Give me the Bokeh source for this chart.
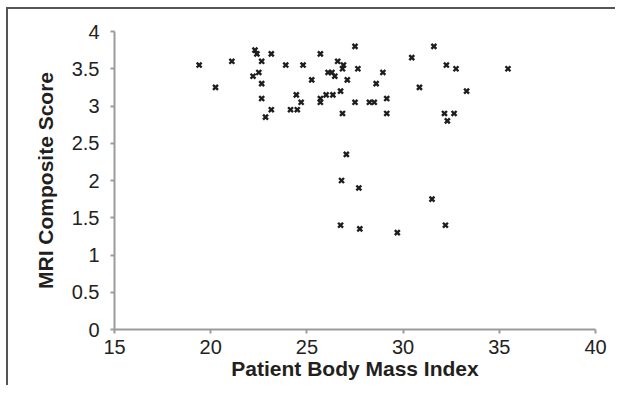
from bokeh.plotting import figure
from bokeh.models import ColumnDataSource, FixedTicker, CustomJSTickFormatter, Range1d
from bokeh.embed import file_html
from bokeh.resources import INLINE

# Patient BMI (x) and MRI composite score (y)
bmi = [19.4, 20.25, 21.1, 22.3, 22.4, 22.2, 22.5, 22.65, 22.65, 22.65,
       22.85, 23.15, 23.15, 23.9, 24.15, 24.5, 24.45, 24.7, 24.8, 25.25,
       25.7, 25.7, 25.7, 26.0, 26.1, 26.35, 26.3, 26.45, 26.6, 26.75,
       26.85, 26.9, 26.85, 27.1, 27.5, 27.5, 27.65, 28.25, 28.5, 28.6,
       28.95, 29.15, 29.15, 30.45, 30.85, 31.6, 32.25, 32.15, 32.3, 32.65,
       32.75, 33.3, 35.45,
       27.05, 26.8, 27.7, 31.5, 26.75, 27.75, 29.7, 32.2]
mri = [3.55, 3.25, 3.60, 3.75, 3.70, 3.40, 3.45, 3.60, 3.30, 3.10,
       2.85, 2.95, 3.70, 3.55, 2.95, 2.95, 3.15, 3.05, 3.55, 3.35,
       3.70, 3.10, 3.05, 3.15, 3.45, 3.15, 3.45, 3.40, 3.60, 3.20,
       3.50, 3.55, 2.90, 3.35, 3.80, 3.05, 3.50, 3.05, 3.05, 3.30,
       3.45, 3.10, 2.90, 3.65, 3.25, 3.80, 3.55, 2.90, 2.80, 2.90,
       3.50, 3.20, 3.50,
       2.35, 2.00, 1.90, 1.75, 1.40, 1.35, 1.30, 1.40]

x_ticks = [15, 20, 25, 30, 35, 40]
y_ticks = [0, 0.5, 1, 1.5, 2, 2.5, 3, 3.5, 4]

source = ColumnDataSource(data=dict(x=bmi, y=mri))

p = figure(width=615, height=385, output_backend="svg", toolbar_location=None,
           x_range=Range1d(15, 40), y_range=Range1d(0, 4),
           min_border_left=114, min_border_right=20,
           min_border_top=31, min_border_bottom=56)
# thin frame line along the left and top edges of the picture
p.styles = {"background": ("linear-gradient(#555555,#555555) 6px 7px / 2px 100% no-repeat, "
                           "linear-gradient(#555555,#555555) 6px 7px / 100% 2px no-repeat, "
                           "#ffffff")}

p.scatter("x", "y", source=source, marker="x", size=7, line_width=2.4,
          line_color="#1e1e1e")

p.outline_line_color = None
p.xgrid.grid_line_color = None
p.ygrid.grid_line_color = None
p.background_fill_color = "white"
p.border_fill_color = None

fmt = CustomJSTickFormatter(code="return tick.toString();")

for ax, ticks in ((p.xaxis[0], x_ticks), (p.yaxis[0], y_ticks)):
    ax.ticker = FixedTicker(ticks=ticks)
    ax.formatter = fmt
    ax.axis_line_color = "#9b9b9b"
    ax.axis_line_width = 2
    ax.major_tick_line_color = "#9b9b9b"
    ax.major_tick_line_width = 2
    ax.major_tick_out = 4
    ax.major_tick_in = 0
    ax.minor_tick_line_color = None
    ax.major_label_text_font = "Liberation Sans"
    ax.major_label_text_font_size = "20px"
    ax.major_label_text_color = "#222222"
    ax.axis_label_text_font = "Liberation Sans"
    ax.axis_label_text_font_size = "21px"
    ax.axis_label_text_font_style = "bold"
    ax.axis_label_text_color = "#231f20"

p.xaxis.axis_label = "Patient Body Mass Index"
p.yaxis.axis_label = "MRI Composite Score"
p.xaxis.major_label_standoff = 6
p.xaxis.axis_label_standoff = 0
p.yaxis.major_label_standoff = 11
p.yaxis.axis_label_standoff = 12

open("out.html", "w").write(file_html(p, INLINE))
